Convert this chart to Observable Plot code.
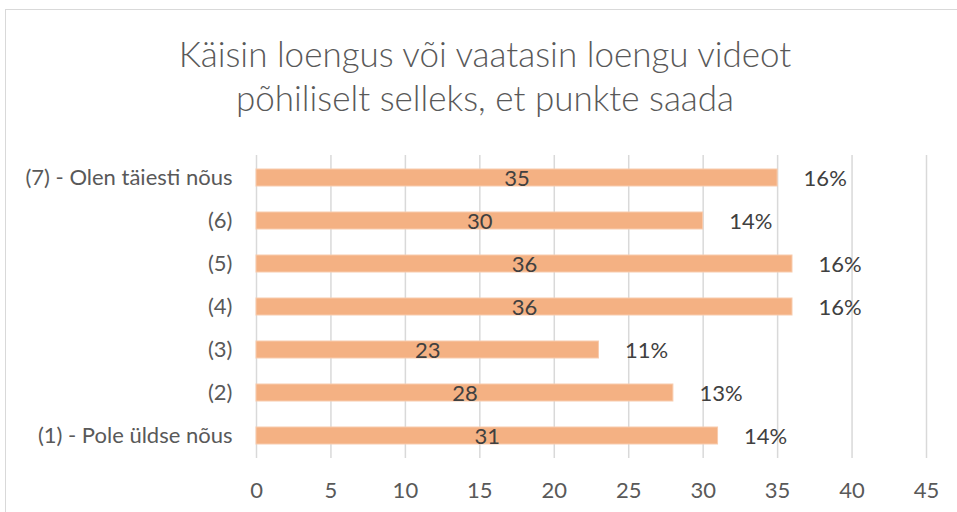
<!DOCTYPE html>
<html>
<head>
<meta charset="utf-8">
<script src="https://cdn.jsdelivr.net/npm/d3@7"></script>
<script src="https://cdn.jsdelivr.net/npm/@observablehq/plot@0.6"></script>
<style>
  html, body { margin: 0; padding: 0; background: #fff; width: 957px; height: 512px; overflow: hidden; }
  #frame { position: absolute; left: 5px; top: 9px; width: 1000px; height: 600px; border: 1px solid #d9d9d9; box-sizing: border-box; }
  #title { position: absolute; left: 0; top: 31px; width: 970px; text-align: center; font-family: Lato, sans-serif; font-weight: 300; font-size: 35px; line-height: 44px; color: #595959; }
  #chart { position: absolute; left: 0; top: 140px; }
</style>
</head>
<body>
<div id="frame"></div>
<div id="title">Käisin loengus või vaatasin loengu videot<br>põhiliselt selleks, et punkte saada</div>
<div id="chart"></div>
<script>
const categories = ["(7) - Olen täiesti nõus", "(6)", "(5)", "(4)", "(3)", "(2)", "(1) - Pole üldse nõus"];
const counts = [35, 30, 36, 36, 23, 28, 31];
const percents = ["16%", "14%", "16%", "16%", "11%", "13%", "14%"];
const xTicks = [0, 5, 10, 15, 20, 25, 30, 35, 40, 45];

const data = categories.map((c, i) => ({cat: c, n: counts[i], pct: percents[i]}));

const plot = Plot.plot({
  width: 957,
  height: 372,
  marginLeft: 256,
  marginRight: 31,
  marginTop: 15,
  marginBottom: 54,
  style: {fontFamily: "Lato, sans-serif", fontSize: "22px", color: "#595959", background: "transparent", overflow: "visible"},
  x: {domain: [0, 45], ticks: xTicks, label: null},
  y: {domain: categories, label: null, paddingInner: 0.6, paddingOuter: 0.3, align: 0.5},
  marks: [
    Plot.gridX(xTicks, {stroke: "#d9d9d9", strokeOpacity: 1, strokeWidth: 1.5}),
    Plot.axisX({ticks: xTicks, tickSize: 0, tickPadding: 24, fontSize: 22, label: null, fill: "#595959"}),
    Plot.axisY({tickSize: 0, tickPadding: 24, fontSize: 22, label: null, fill: "#595959"}),
    Plot.barX(data, {y: "cat", x: "n", fill: "#f4b183", stroke: "#f8cbad", strokeWidth: 1}),
    Plot.text(data, {y: "cat", x: d => d.n / 2, text: d => String(d.n), fill: "#404040", fontSize: 22, dy: 1}),
    Plot.text(data, {y: "cat", x: "n", text: "pct", fill: "#404040", fontSize: 22, textAnchor: "start", dx: 26, dy: 1})
  ]
});
document.getElementById("chart").appendChild(plot);
</script>
</body>
</html>
